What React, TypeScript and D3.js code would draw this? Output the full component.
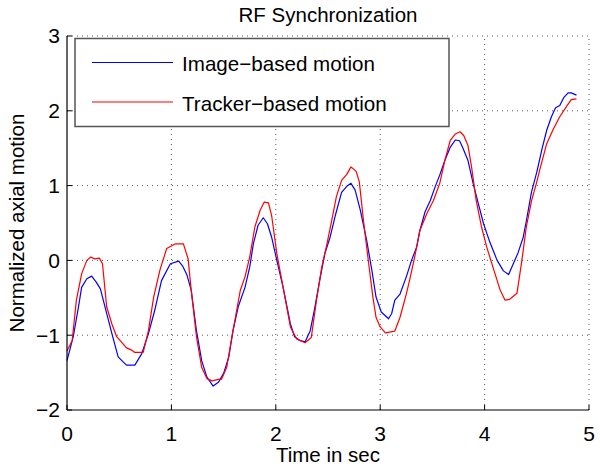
import React from "react";
import * as d3 from "d3";

const title = "RF Synchronization";
const xLabel = "Time in sec";
const yLabel = "Normalized axial motion";
const seriesNames = ["Image−based motion", "Tracker−based motion"];
const seriesColors = ["#0000ff", "#ff0000"];
const xTicks = [0, 1, 2, 3, 4, 5];
const yTicks = [-2, -1, 0, 1, 2, 3];

const imageT = [0, 0.06, 0.11, 0.14, 0.19, 0.236, 0.28, 0.32, 0.364, 0.43, 0.49, 0.54, 0.57, 0.65, 0.715, 0.78, 0.84, 0.905, 0.99, 1.07, 1.11, 1.15, 1.19, 1.24, 1.29, 1.34, 1.40, 1.45, 1.50, 1.55, 1.59, 1.64, 1.705, 1.75, 1.785, 1.83, 1.88, 1.92, 1.96, 2.01, 2.07, 2.14, 2.18, 2.23, 2.28, 2.33, 2.375, 2.42, 2.47, 2.52, 2.57, 2.63, 2.68, 2.72, 2.76, 2.81, 2.87, 2.92, 2.96, 3.01, 3.08, 3.11, 3.14, 3.19, 3.25, 3.30, 3.35, 3.38, 3.43, 3.48, 3.525, 3.57, 3.62, 3.67, 3.72, 3.76, 3.79, 3.84, 3.89, 3.94, 3.99, 4.05, 4.12, 4.18, 4.23, 4.275, 4.32, 4.37, 4.40, 4.45, 4.50, 4.55, 4.595, 4.64, 4.68, 4.72, 4.76, 4.80, 4.83, 4.88];
const imageV = [-1.34, -1.02, -0.62, -0.36, -0.245, -0.21, -0.29, -0.38, -0.62, -0.98, -1.29, -1.36, -1.40, -1.40, -1.25, -0.98, -0.67, -0.27, -0.045, -0.01, -0.08, -0.2, -0.40, -0.94, -1.34, -1.56, -1.68, -1.63, -1.51, -1.29, -0.94, -0.62, -0.36, -0.09, 0.22, 0.47, 0.57, 0.49, 0.31, 0, -0.36, -0.85, -1.02, -1.07, -1.09, -0.94, -0.62, -0.27, 0.09, 0.31, 0.60, 0.91, 0.99, 1.03, 0.94, 0.67, 0.27, -0.13, -0.49, -0.69, -0.78, -0.71, -0.53, -0.45, -0.22, 0.0, 0.18, 0.40, 0.65, 0.80, 0.98, 1.14, 1.34, 1.51, 1.61, 1.60, 1.51, 1.34, 1.03, 0.76, 0.49, 0.245, 0.0, -0.14, -0.19, -0.045, 0.10, 0.31, 0.53, 0.92, 1.18, 1.49, 1.74, 1.92, 2.04, 2.07, 2.18, 2.24, 2.24, 2.21];

const trackerT = [0, 0.05, 0.09, 0.14, 0.19, 0.227, 0.265, 0.31, 0.34, 0.38, 0.43, 0.476, 0.52, 0.57, 0.62, 0.65, 0.73, 0.78, 0.83, 0.89, 0.955, 1.035, 1.115, 1.16, 1.19, 1.24, 1.29, 1.34, 1.39, 1.45, 1.48, 1.53, 1.58, 1.625, 1.66, 1.705, 1.75, 1.80, 1.85, 1.89, 1.93, 1.96, 2.01, 2.07, 2.14, 2.20, 2.28, 2.34, 2.39, 2.44, 2.49, 2.535, 2.58, 2.63, 2.68, 2.72, 2.77, 2.80, 2.84, 2.89, 2.93, 2.96, 3.00, 3.05, 3.14, 3.19, 3.25, 3.285, 3.33, 3.38, 3.445, 3.51, 3.57, 3.62, 3.67, 3.72, 3.765, 3.80, 3.84, 3.875, 3.92, 3.97, 4.02, 4.08, 4.15, 4.195, 4.24, 4.31, 4.355, 4.40, 4.45, 4.50, 4.53, 4.595, 4.66, 4.72, 4.79, 4.83, 4.88];
const trackerV = [-1.21, -1.07, -0.53, -0.18, 0, 0.045, 0.02, 0.03, -0.045, -0.62, -0.85, -1.02, -1.09, -1.17, -1.2, -1.23, -1.23, -0.94, -0.49, -0.13, 0.16, 0.22, 0.22, 0.02, -0.40, -1.02, -1.43, -1.58, -1.61, -1.59, -1.59, -1.43, -1.02, -0.67, -0.40, -0.22, 0.045, 0.45, 0.67, 0.78, 0.77, 0.60, 0.09, -0.36, -0.89, -1.05, -1.10, -1.03, -0.53, -0.09, 0.22, 0.53, 0.85, 1.07, 1.15, 1.25, 1.19, 1.05, 0.53, -0.045, -0.49, -0.76, -0.89, -0.97, -0.945, -0.76, -0.45, -0.245, 0.045, 0.40, 0.62, 0.80, 1.03, 1.34, 1.60, 1.69, 1.72, 1.67, 1.54, 1.25, 0.80, 0.45, 0.18, -0.09, -0.40, -0.53, -0.52, -0.44, -0.02, 0.45, 0.80, 1.05, 1.22, 1.56, 1.76, 1.92, 2.07, 2.15, 2.16];

const W = 600;
const H = 466;
const M = { left: 67, right: 11, top: 36, bottom: 56 };
const FONT = "'Liberation Sans', Arial, Helvetica, sans-serif";

export default function App() {
  const x = d3.scaleLinear().domain([0, 5]).range([M.left, W - M.right]);
  const y = d3.scaleLinear().domain([-2, 3]).range([H - M.bottom, M.top]);
  const line = d3
    .line<[number, number]>()
    .x((d) => x(d[0]))
    .y((d) => y(d[1]));
  const series = [
    d3.zip(imageT, imageV) as [number, number][],
    d3.zip(trackerT, trackerV) as [number, number][],
  ];
  const fmt = d3.format("d");
  const x0 = x(0), x1 = x(5), yb = y(-2), yt = y(3);

  return (
    <svg
      width={W}
      height={H}
      style={{ position: "absolute", left: 0, top: 0, background: "#fff" }}
      fontFamily={FONT}
    >
      <rect x={0} y={0} width={W} height={H} fill="#fff" />
      {/* grid */}
      {xTicks.filter((t) => t > 0).map((t) => (
        <line key={"gx" + t} x1={x(t)} x2={x(t)} y1={yb} y2={yt} stroke="#555" strokeWidth={1} strokeDasharray="1 4" />
      ))}
      {yTicks.filter((t) => t > -2).map((t) => (
        <line key={"gy" + t} x1={x0} x2={x1} y1={y(t)} y2={y(t)} stroke="#555" strokeWidth={1} strokeDasharray="1 4" />
      ))}
      {/* data */}
      {series.map((s, i) => (
        <path key={"s" + i} d={line(s) || ""} fill="none" stroke={seriesColors[i]} strokeWidth={1.2} strokeLinejoin="round" />
      ))}
      {/* axes */}
      <line x1={x0} x2={x1} y1={yb} y2={yb} stroke="#000" strokeWidth={1.2} />
      <line x1={x0} x2={x0} y1={yb} y2={yt} stroke="#000" strokeWidth={1.2} />
      {xTicks.map((t) => (
        <line key={"tx" + t} x1={x(t)} x2={x(t)} y1={yb} y2={yb - 5} stroke="#000" strokeWidth={1} />
      ))}
      {yTicks.map((t) => (
        <line key={"ty" + t} x1={x0} x2={x0 + 5} y1={y(t)} y2={y(t)} stroke="#000" strokeWidth={1} />
      ))}
      {xTicks.map((t) => (
        <text key={"lx" + t} x={x(t)} y={yb + 31} textAnchor="middle" fontSize={21} fill="#000">
          {fmt(t)}
        </text>
      ))}
      {yTicks.map((t) => (
        <text key={"ly" + t} x={x0 - 7} y={y(t)} dy="0.35em" textAnchor="end" fontSize={21} fill="#000">
          {fmt(t)}
        </text>
      ))}
      {/* labels */}
      <text x={(x0 + x1) / 2} y={22} textAnchor="middle" fontSize={20.5} fill="#000">
        {title}
      </text>
      <text x={(x0 + x1) / 2} y={462} textAnchor="middle" fontSize={20.5} fill="#000">
        {xLabel}
      </text>
      <text
        transform={`translate(${24},${(yb + yt) / 2}) rotate(-90)`}
        textAnchor="middle"
        fontSize={20.5}
        fill="#000"
      >
        {yLabel}
      </text>
      {/* legend */}
      <rect x={75} y={38.5} width={374} height={88} fill="#fff" stroke="#555" strokeWidth={1.5} />
      {seriesNames.map((n, i) => (
        <g key={"lg" + i}>
          <line x1={92} x2={173} y1={62.5 + i * 39.5} y2={62.5 + i * 39.5} stroke={seriesColors[i]} strokeWidth={1.2} />
          <text x={182} y={62.5 + i * 39.5 + 8.5} fontSize={20.6} fill="#000">
            {n}
          </text>
        </g>
      ))}
    </svg>
  );
}
